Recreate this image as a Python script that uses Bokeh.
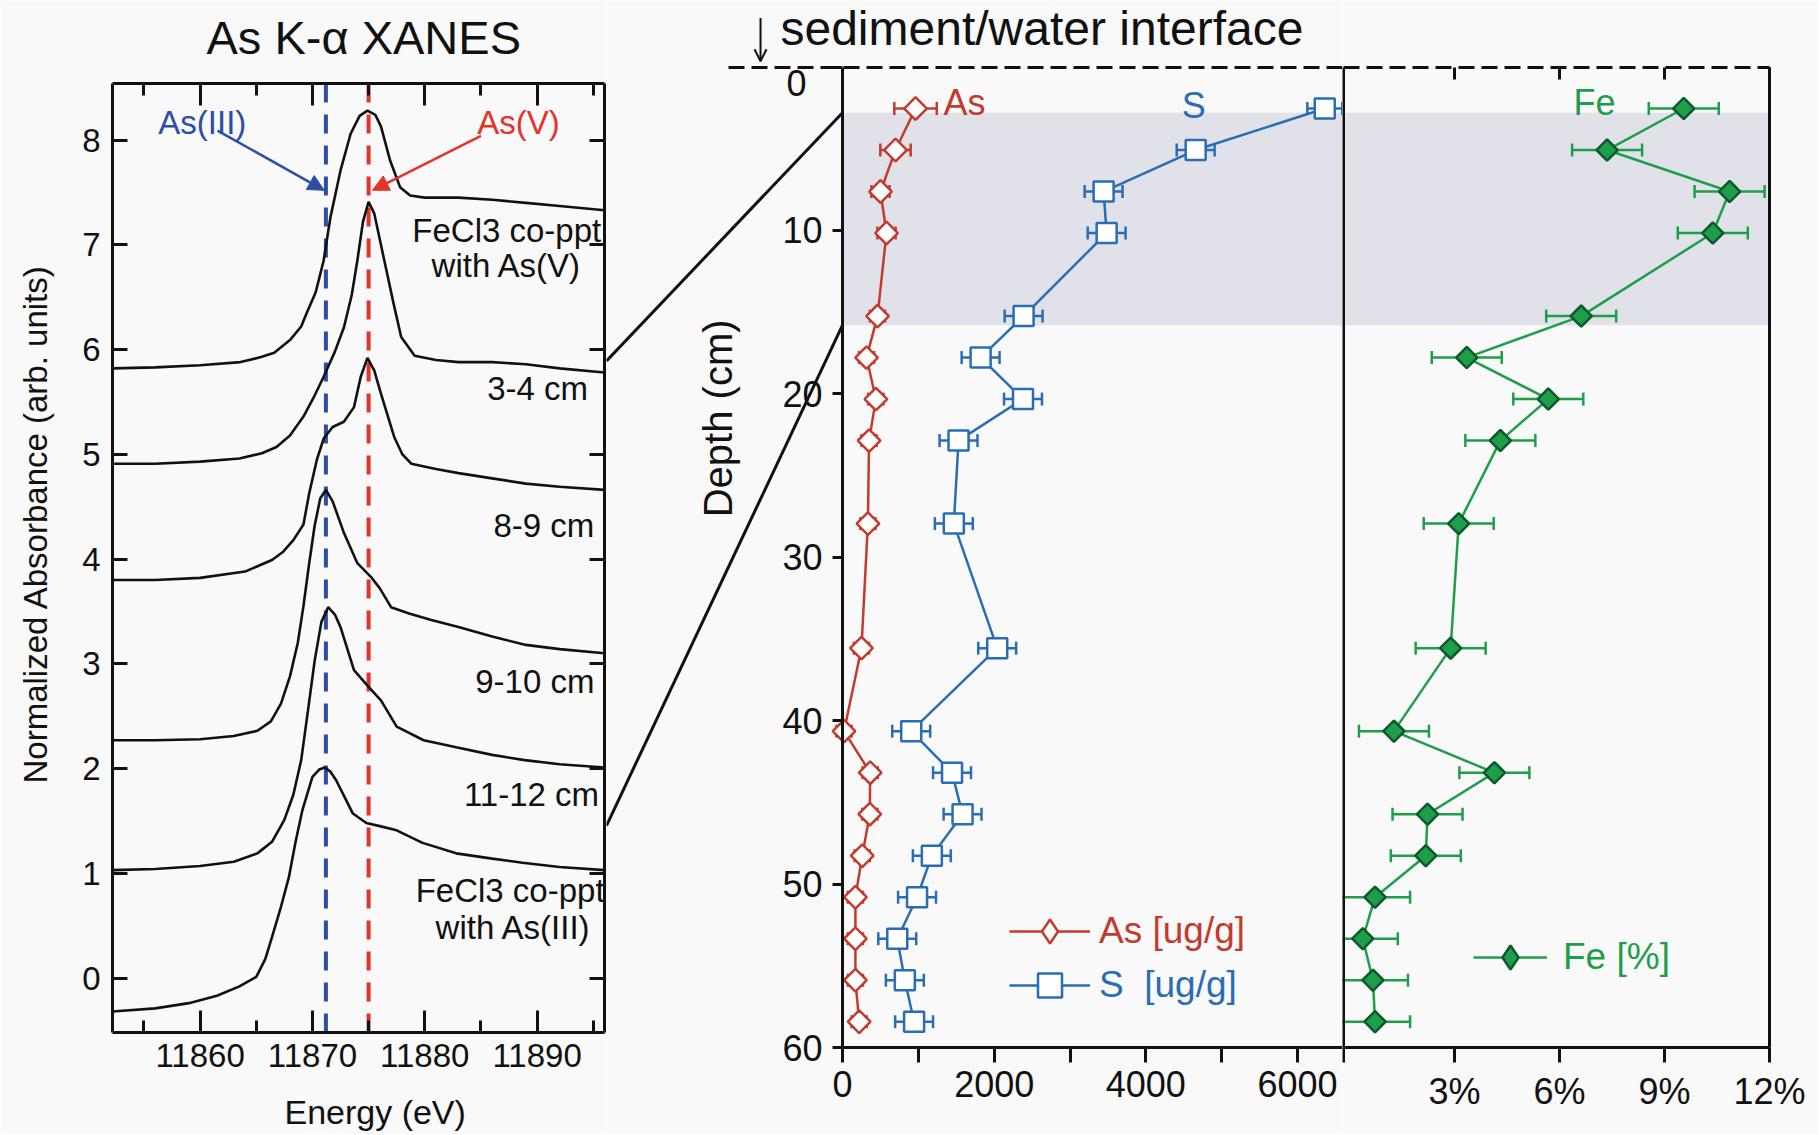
import numpy as np
from bokeh.plotting import figure
from bokeh.models import (Range1d, LinearAxis, FixedTicker, SingleIntervalTicker, Label, Arrow,
                          NormalHead, OpenHead, BoxAnnotation, Whisker, TeeHead, ColumnDataSource,
                          Legend, LegendItem, PrintfTickFormatter, CDSView, IndexFilter)
from bokeh.layouts import row
from bokeh.embed import file_html
from bokeh.resources import INLINE

# ---------------- data: As K-edge XANES spectra ----------------
e_asv_std = [11852.2, 11856, 11860, 11863.6, 11865.5, 11866.6, 11868.0, 11869.0, 11869.5, 11870.3,
             11871.0, 11871.6, 11872.5, 11873.4, 11874.2, 11874.9, 11875.6, 11876.1, 11876.9,
             11877.8, 11878.7, 11880, 11883, 11886, 11889, 11892, 11896]
a_asv_std = [5.82, 5.83, 5.85, 5.88, 5.93, 5.97, 6.09, 6.22, 6.35, 6.55,
             6.85, 7.26, 7.71, 8.06, 8.23, 8.28, 8.24, 8.13, 7.81,
             7.55, 7.47, 7.45, 7.45, 7.43, 7.40, 7.37, 7.33]

e_3_4 = [11852.2, 11856, 11860, 11863.5, 11865.5, 11866.8, 11868.0, 11869.2, 11870.1, 11871.0,
         11872.0, 11872.8, 11873.5, 11874.0, 11874.5, 11875.0, 11875.5, 11876.0, 11876.4, 11877.2,
         11877.9, 11879.1, 11881, 11883, 11886, 11889, 11892, 11896]
a_3_4 = [4.91, 4.91, 4.93, 4.96, 5.01, 5.07, 5.18, 5.36, 5.54, 5.74,
         5.98, 6.21, 6.52, 6.85, 7.22, 7.41, 7.30, 7.05, 6.85, 6.45,
         6.12, 5.94, 5.90, 5.88, 5.88, 5.86, 5.82, 5.78]

e_8_9 = [11852.2, 11856, 11860, 11864, 11866.4, 11867.4, 11868.3, 11869.2, 11869.7, 11870.4,
         11871.0, 11871.8, 11872.8, 11873.7, 11874.3, 11874.9, 11875.5, 11876.1, 11877.3, 11878.0,
         11878.8, 11881, 11883, 11886, 11889, 11892, 11896]
a_8_9 = [3.80, 3.80, 3.82, 3.88, 3.99, 4.07, 4.18, 4.33, 4.62, 4.95,
         5.15, 5.26, 5.31, 5.45, 5.74, 5.92, 5.80, 5.58, 5.16, 5.00,
         4.91, 4.86, 4.82, 4.77, 4.72, 4.69, 4.66]

e_9_10 = [11852.2, 11856, 11860, 11863, 11865.1, 11866.3, 11867.2, 11868.0, 11868.7, 11869.2,
          11869.7, 11870.2, 11870.7, 11871.2, 11871.8, 11872.8, 11874.0, 11875.2, 11876.0, 11877.0,
          11878.6, 11880.5, 11883, 11886, 11889, 11892, 11896]
a_9_10 = [2.27, 2.27, 2.28, 2.31, 2.36, 2.45, 2.62, 2.88, 3.20, 3.55,
          3.95, 4.32, 4.58, 4.66, 4.55, 4.25, 3.96, 3.83, 3.72, 3.54,
          3.48, 3.42, 3.35, 3.26, 3.18, 3.14, 3.10]

e_11_12 = [11852.2, 11856, 11860, 11863, 11865.1, 11866.4, 11867.5, 11868.3, 11869.0, 11869.6,
           11870.2, 11870.8, 11871.4, 11872.0, 11872.5, 11873.7, 11875.0, 11876.1, 11877.5, 11879.9,
           11882.9, 11886, 11888.9, 11892, 11896]
a_11_12 = [1.03, 1.04, 1.07, 1.11, 1.19, 1.30, 1.51, 1.75, 2.08, 2.55,
           3.03, 3.40, 3.54, 3.47, 3.35, 2.94, 2.78, 2.65, 2.40, 2.27,
           2.20, 2.13, 2.08, 2.04, 2.01]

e_asiii_std = [11852.2, 11856, 11859, 11861.5, 11863.5, 11865.0, 11865.8, 11866.4, 11867.2, 11867.9,
               11868.5, 11869.1, 11870.0, 11870.6, 11871.1, 11871.6, 11872.1, 11872.9, 11873.6, 11874.8,
               11876, 11877.5, 11879.8, 11882.8, 11886, 11888.7, 11892, 11896]
a_asiii_std = [-0.32, -0.29, -0.24, -0.17, -0.08, 0.01, 0.18, 0.39, 0.68, 0.96,
               1.30, 1.60, 1.92, 1.99, 2.01, 1.97, 1.89, 1.72, 1.57, 1.48,
               1.45, 1.41, 1.29, 1.19, 1.14, 1.10, 1.06, 1.03]

as3_edge = 11871.2   # As(III) white line
as5_edge = 11875.0   # As(V) white line

# ---------------- data: depth profiles ----------------
depth_cm = [2.54, 5.08, 7.62, 10.16, 15.24, 17.78, 20.32, 22.86, 27.94, 35.56,
            40.64, 43.18, 45.72, 48.26, 50.80, 53.34, 55.88, 58.42]
as_ugg = [963, 699, 501, 580, 462, 317, 440, 350, 335, 250,
          20, 365, 360, 260, 170, 170, 170, 220]
as_err = [280, 200, 120, 120, 100, 100, 100, 100, 100, 100,
          100, 100, 100, 100, 100, 100, 100, 100]
s_ugg = [6359, 4657, 3443, 3483, 2388, 1821, 2380, 1530, 1468, 2040,
         906, 1444, 1583, 1178, 983, 722, 822, 944]
s_err = [230, 250, 250, 250, 250, 250, 250, 250, 250, 250,
         250, 250, 250, 250, 250, 250, 250, 250]
fe_pct = [9.55, 7.36, 10.86, 10.38, 6.62, 3.35, 5.68, 4.31, 3.12, 2.89,
          1.27, 4.14, 2.23, 2.18, 0.73, 0.38, 0.67, 0.73]
fe_err = [1.0, 1.0, 1.0, 1.0, 1.0, 1.0, 1.0, 1.0, 1.0, 1.0,
          1.0, 1.0, 1.0, 1.0, 1.0, 1.0, 1.0, 1.0]

band_depth = (2.8, 15.8)          # depth interval analysed by XANES (shaded)
x_ticks_s = [0, 2000, 4000, 6000]
x_minor_s = [1000, 3000, 5000]
fe_ticks = [3, 6, 9, 12]
depth_ticks = [0, 10, 20, 30, 40, 50, 60]

# ---------------- styles ----------------
FONT = "Liberation Sans"
BG = "#f9f9f9"
BLACK = "#111111"
RED = "#c23b2e"
BLUE = "#2a6db5"
GREEN = "#1f9e4a"
GREEN_DK = "#0c5a2c"
BAND = "#e0e1e9"
DBLUE = "#2c4ea6"
DRED = "#e3342a"
H = 1134


def make_axis(ticker, label_size="36px", tick_in=0, tick_out=0, minor_in=0, minor_out=0,
              standoff=0, label_color=BLACK, **kw):
    return LinearAxis(ticker=ticker, major_tick_in=tick_in, major_tick_out=tick_out,
                      minor_tick_in=minor_in, minor_tick_out=minor_out,
                      major_label_text_font_size=label_size, major_label_text_font=FONT,
                      major_label_text_color=label_color, major_label_standoff=standoff,
                      axis_line_width=3, axis_line_color=BLACK,
                      major_tick_line_width=3, major_tick_line_color=BLACK,
                      minor_tick_line_width=3, minor_tick_line_color=BLACK, **kw)


def new_fig(width, xr, yr):
    p = figure(width=width, height=H, x_range=Range1d(*xr), y_range=Range1d(*yr),
               x_axis_location=None, y_axis_location=None, output_backend="svg",
               toolbar_location=None, min_border=0, background_fill_color=BG,
               border_fill_color=BG, outline_line_color=None)
    p.grid.visible = False
    p.title.visible = False
    return p


def text(p, x, y, t, color=BLACK, size="33px", align="center", baseline="middle", angle=0.0):
    p.add_layout(Label(x=x, y=y, text=t, text_color=color, text_font=FONT, text_font_size=size,
                       text_align=align, text_baseline=baseline, angle=angle))


# ================= left: XANES =================
XR = (11852.2, 11896.0)     # energy window of the panel
YR = (-0.52, 8.54)          # absorbance window of the panel
pL = new_fig(606, (11842.23, 11896.18), (-1.494, 9.332))

xt = SingleIntervalTicker(interval=10, num_minor_ticks=2)
yt = FixedTicker(ticks=list(range(0, 9)), minor_ticks=[])
pL.add_layout(make_axis(xt, "33px", tick_in=22, minor_in=12, standoff=12,
                        fixed_location=YR[0], bounds=XR), "below")
pL.add_layout(make_axis(yt, "33px", tick_in=15, standoff=12,
                        fixed_location=XR[0], bounds=YR), "left")
pL.add_layout(make_axis(xt, tick_in=22, minor_in=12, label_color=None,
                        fixed_location=YR[1], bounds=XR), "above")
pL.add_layout(make_axis(yt, tick_in=15, label_color=None,
                        fixed_location=XR[1], bounds=YR), "right")

text(pL, 11860.57, 8.979, "As K-\u03b1 XANES", size="47px", align="left")
text(pL, 11845.35, 1.857, "Normalized Absorbance (arb. units)", align="left", angle=np.pi / 2)
text(pL, 11867.51, -1.283, "Energy (eV)", size="34px", align="left")

pL.segment(x0=[as3_edge], y0=[YR[0]], x1=[as3_edge], y1=[YR[1]], line_color=DBLUE,
           line_width=4, line_dash="19 12")
pL.segment(x0=[as5_edge], y0=[YR[0]], x1=[as5_edge], y1=[YR[1]], line_color=DRED,
           line_width=4, line_dash="19 12")

for e, a in [(e_asv_std, a_asv_std), (e_3_4, a_3_4), (e_8_9, a_8_9), (e_9_10, a_9_10),
             (e_11_12, a_11_12), (e_asiii_std, a_asiii_std)]:
    pL.line(e, a, line_color=BLACK, line_width=2.6)

pL.add_layout(Arrow(x_start=11861.55, y_start=8.09, x_end=as3_edge - 0.15, y_end=7.52,
                    line_color=DBLUE, line_width=2.5,
                    end=NormalHead(size=16, fill_color=DBLUE, line_color=DBLUE)))
pL.add_layout(Arrow(x_start=11885.0, y_start=8.04, x_end=as5_edge + 0.35, y_end=7.52,
                    line_color=DRED, line_width=2.5,
                    end=NormalHead(size=16, fill_color=DRED, line_color=DRED)))

text(pL, 11860.2, 8.17, "As(III)", color=DBLUE)
text(pL, 11888.35, 8.17, "As(V)", color=DRED)
for x, y, t in [(11887.3, 7.14, "FeCl3 co-ppt"), (11887.3, 6.80, "with As(V)"),
                (11890.05, 5.63, "3-4 cm"), (11890.6, 4.32, "8-9 cm"),
                (11889.8, 2.83, "9-10 cm"), (11889.5, 1.75, "11-12 cm"),
                (11887.6, 0.84, "FeCl3 co-ppt"), (11887.9, 0.48, "with As(III)")]:
    text(pL, x, y, t)

# ================= middle: As and S vs depth =================
S_RANGE = (-3112, 6593)
D_RANGE = (65.32, -4.07)
pS = new_fig(736, S_RANGE, D_RANGE)

pS.add_layout(make_axis(FixedTicker(ticks=depth_ticks, minor_ticks=[]), "36px", tick_out=10,
                        standoff=10, fixed_location=0, bounds=(0, 60),
                        major_label_overrides={0: ""}), "left")
pS.add_layout(make_axis(FixedTicker(ticks=x_ticks_s, minor_ticks=x_minor_s), "36px", tick_out=15,
                        minor_out=15, standoff=8, fixed_location=60,
                        bounds=(0, S_RANGE[1])), "below")
pS.add_layout(make_axis(FixedTicker(ticks=[], minor_ticks=[]), fixed_location=0,
                        bounds=(-1503, S_RANGE[1]), axis_line_dash="16 7"), "above")

pS.add_layout(BoxAnnotation(left=0, top=band_depth[0], bottom=band_depth[1], fill_color=BAND,
                            fill_alpha=1, line_color=None, level="underlay"))
# zoom connectors from the XANES panel to the shaded interval
pS.segment(x0=[S_RANGE[0], S_RANGE[0]], y0=[17.98, 46.42], x1=[0, 0], y1=list(band_depth),
           line_color=BLACK, line_width=3)

src = ColumnDataSource(dict(depth=depth_cm, as_v=as_ugg,
                            as_lo=[v - e for v, e in zip(as_ugg, as_err)],
                            as_hi=[v + e for v, e in zip(as_ugg, as_err)],
                            s_v=s_ugg,
                            s_lo=[v - e for v, e in zip(s_ugg, s_err)],
                            s_hi=[v + e for v, e in zip(s_ugg, s_err)],
                            fe_v=fe_pct,
                            fe_lo=[v - e for v, e in zip(fe_pct, fe_err)],
                            fe_hi=[v + e for v, e in zip(fe_pct, fe_err)]))
first_row = CDSView(filter=IndexFilter(indices=[0]))


def whisker(lo, hi, color):
    return Whisker(source=src, base="depth", lower=lo, upper=hi, dimension="width",
                   line_color=color, line_width=2.5, level="underlay",
                   lower_head=TeeHead(size=13, line_color=color, line_width=2.5),
                   upper_head=TeeHead(size=13, line_color=color, line_width=2.5))


pS.add_layout(whisker("as_lo", "as_hi", RED))
pS.add_layout(whisker("s_lo", "s_hi", BLUE))
as_line = pS.line("as_v", "depth", source=src, line_color=RED, line_width=2.5)
# legend key (diamond); on the plot it is a 1-px mark hidden under the first marker
as_key = pS.scatter("as_v", "depth", source=src, view=first_row, marker="diamond", size=1,
                    fill_color="white", line_color=RED, line_width=2.5)
pS.scatter("as_v", "depth", source=src, marker="square", angle=np.pi / 4, size=16,
           fill_color="white", line_color=RED, line_width=2.5)
s_line = pS.line("s_v", "depth", source=src, line_color=BLUE, line_width=2.5)
s_pts = pS.scatter("s_v", "depth", source=src, marker="square", size=20,
                   fill_color="white", line_color=BLUE, line_width=2.5)

text(pS, 1332, 2.2, "As", color=RED, size="36px", align="left")
text(pS, 4631, 2.35, "S", color=BLUE, size="36px")
text(pS, -607, 1.0, "0", size="36px")
text(pS, -1648, 21.5, "Depth (cm)", size="40px", angle=np.pi / 2)
text(pS, -818, -2.386, "sediment/water interface", size="48px", align="left")
pS.add_layout(Arrow(x_start=-1081, y_start=-3.0, x_end=-1081, y_end=-0.35, line_color=BLACK,
                    line_width=2, end=OpenHead(size=12, line_color=BLACK, line_width=2)))


def legend(label, renderers, color, loc, gw, standoff):
    return Legend(items=[LegendItem(label=label, renderers=renderers)], location=loc,
                  glyph_width=gw, glyph_height=60, label_height=44, label_standoff=standoff,
                  label_text_font=FONT, label_text_font_size="37px", label_text_color=color,
                  background_fill_alpha=0, border_line_color=None, padding=0, margin=0)


pS.add_layout(legend("As [ug/g]", [as_line, as_key], RED, (403, 173), 81, 9))
pS.add_layout(legend("S  [ug/g]", [s_line, s_pts], BLUE, (403, 119), 81, 9))

# ================= right: Fe vs depth =================
FE_RANGE = (-0.2, 13.4)
FE_LEFT = -0.16
pF = new_fig(476, FE_RANGE, D_RANGE)
pF.add_layout(make_axis(FixedTicker(ticks=[], minor_ticks=[]), fixed_location=FE_LEFT,
                        bounds=(0, 60)), "left")
pF.add_layout(make_axis(FixedTicker(ticks=[], minor_ticks=[]), fixed_location=12,
                        bounds=(0, 60)), "right")
pF.add_layout(make_axis(FixedTicker(ticks=fe_ticks, minor_ticks=[]), tick_in=12,
                        label_color=None, fixed_location=0, bounds=(FE_LEFT, 12),
                        axis_line_dash="16 7"), "above")
pF.add_layout(make_axis(FixedTicker(ticks=fe_ticks, minor_ticks=[FE_LEFT]), "36px", tick_out=15,
                        minor_out=15, standoff=8, fixed_location=60, bounds=(FE_LEFT, 12),
                        formatter=PrintfTickFormatter(format="%d%%")), "below")
pF.add_layout(BoxAnnotation(left=FE_LEFT, right=12, top=band_depth[0], bottom=band_depth[1],
                            fill_color=BAND, fill_alpha=1, line_color=None, level="underlay"))
pF.add_layout(whisker("fe_lo", "fe_hi", GREEN))
fe_line = pF.line("fe_v", "depth", source=src, line_color=GREEN, line_width=2.5)
fe_key = pF.scatter("fe_v", "depth", source=src, view=first_row, marker="diamond", size=1,
                    fill_color=GREEN, line_color=GREEN_DK, line_width=2.5)
pF.scatter("fe_v", "depth", source=src, marker="square", angle=np.pi / 4, size=15,
           fill_color=GREEN, line_color=GREEN_DK, line_width=2.5)
text(pF, 7.0, 2.2, "Fe", color=GREEN, size="36px")
pF.add_layout(legend("Fe [%]", [fe_line, fe_key], GREEN, (131, 147), 74, 16))

layout = row(pL, pS, pF)
open("out.html", "w").write(file_html(layout, INLINE))
